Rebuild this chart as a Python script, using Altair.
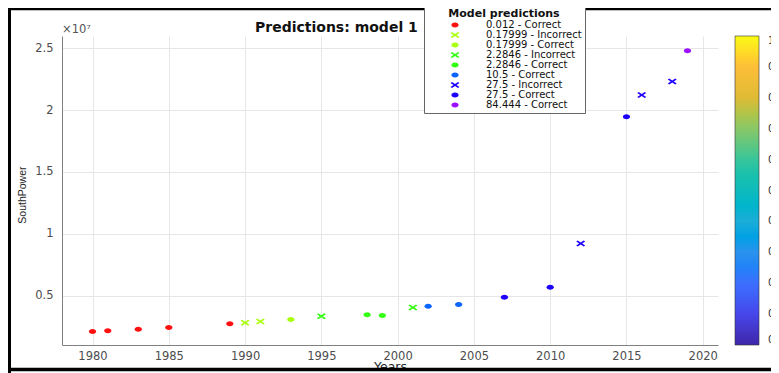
import altair as alt
import pandas as pd

# ---- data ----
years = [1980, 1981, 1983, 1985, 1989, 1990, 1991, 1993, 1995, 1998, 1999,
         2001, 2002, 2004, 2007, 2010, 2012, 2015, 2016, 2018, 2019]
power = [2.09e6, 2.15e6, 2.28e6, 2.42e6, 2.72e6, 2.80e6, 2.90e6, 3.06e6, 3.33e6,
         3.44e6, 3.39e6, 4.03e6, 4.14e6, 4.27e6, 4.86e6, 5.67e6, 9.22e6,
         1.946e7, 2.123e7, 2.231e7, 2.481e7]
point_cat = [
    "0.012 - Correct", "0.012 - Correct", "0.012 - Correct", "0.012 - Correct", "0.012 - Correct",
    "0.17999 - Incorrect", "0.17999 - Incorrect", "0.17999 - Correct",
    "2.2846 - Incorrect", "2.2846 - Correct", "2.2846 - Correct", "2.2846 - Incorrect",
    "10.5 - Correct", "10.5 - Correct",
    "27.5 - Correct", "27.5 - Correct", "27.5 - Incorrect", "27.5 - Correct",
    "27.5 - Incorrect", "27.5 - Incorrect",
    "84.444 - Correct",
]
cat_order = ["0.012 - Correct", "0.17999 - Incorrect", "0.17999 - Correct",
             "2.2846 - Incorrect", "2.2846 - Correct", "10.5 - Correct",
             "27.5 - Incorrect", "27.5 - Correct", "84.444 - Correct"]
cat_colors = ["#ff1010", "#aaff10", "#aaff10", "#33ff10", "#33ff10",
              "#0a64ff", "#1e00ff", "#1e00ff", "#9b10ff"]

DOT = "M-1.45,0A1.45,1 0 1,0 1.45,0A1.45,1 0 1,0 -1.45,0Z"
XMARK = "M-1.8,-0.8L-1.2,-1.2L0,-0.4L1.2,-1.2L1.8,-0.8L0.6,0L1.8,0.8L1.2,1.2L0,0.4L-1.2,1.2L-1.8,0.8L-0.6,0Z"
cat_shapes = [DOT, XMARK, DOT, XMARK, DOT, DOT, XMARK, DOT, DOT]

x_ticks = [1980, 1985, 1990, 1995, 2000, 2005, 2010, 2015, 2020]
y_ticks = [5e6, 1e7, 1.5e7, 2e7, 2.5e7]
cbar_ticks = [0, 0.1, 0.2, 0.3, 0.4, 0.5, 0.6, 0.7, 0.8, 0.9, 1]
parula = ["#3e26a8", "#4746eb", "#3c6ffe", "#2a92ee", "#1cadd8", "#0ebbbc",
          "#37c59a", "#88c767", "#dfbb35", "#febe38", "#f9fb15"]

title_text = "Predictions: model 1"
exp_text = "\u00d710\u2077"

df = pd.DataFrame({"year": years, "power": power, "cat": point_cat})

FONT = "DejaVu Sans"

model_legend = alt.Legend(
    title="Model predictions", orient="none", legendX=362, legendY=-31,
    direction="vertical", fillColor="white", strokeColor="#666666",
    padding=3, titleFont=FONT, titleFontSize=11, titleFontWeight="bold",
    titleColor="#111111", titleAlign="center", titleAnchor="middle", titlePadding=1,
    labelFont=FONT, labelFontSize=10, labelColor="#111111",
    symbolSize=25, symbolStrokeWidth=0, symbolOffset=23, labelOffset=26,
    rowPadding=0,
)

points = alt.Chart(df).mark_point(filled=True, opacity=1, strokeWidth=0).encode(
    x=alt.X("year:Q",
            scale=alt.Scale(domain=[1978, 2021], nice=False, zero=False),
            axis=alt.Axis(values=x_ticks, format="d", title="Years",
                          labelPadding=5, titleY=25, titleBaseline="alphabetic",
                          titleFontSize=12.5)),
    y=alt.Y("power:Q",
            scale=alt.Scale(domain=[1e6, 2.6e7], nice=False, zero=False),
            axis=alt.Axis(values=y_ticks, labelExpr="datum.value / 10000000",
                          title="SouthPower", labelPadding=9,
                          titleX=-37, titleY=130, titleAngle=270,
                          titleBaseline="alphabetic", titleAlign="right",
                          titleFont="Liberation Sans", titleFontSize=10.5)),
    color=alt.Color("cat:N", scale=alt.Scale(domain=cat_order, range=cat_colors),
                    legend=model_legend),
    shape=alt.Shape("cat:N", scale=alt.Scale(domain=cat_order, range=cat_shapes),
                    legend=model_legend),
    size=alt.value(25),
)

cbar = alt.Chart(pd.DataFrame({"v": cbar_ticks})).mark_point(opacity=0).encode(
    x=alt.value(0), y=alt.value(0),
    fill=alt.Fill("v:Q", scale=alt.Scale(domain=[0, 1], range=parula),
                  legend=alt.Legend(title=None, orient="none", legendX=673, legendY=0,
                                    direction="vertical", gradientLength=309,
                                    gradientThickness=24, gradientStrokeColor="#333333",
                                    gradientStrokeWidth=0.6, padding=0,
                                    values=cbar_ticks, format=".1~f",
                                    labelOffset=9, labelFont=FONT, labelFontSize=10,
                                    labelColor="#333333", labelBaseline="middle",
                                    labelOverlap=False)),
)

text_df = pd.DataFrame({"t": [title_text], "e": [exp_text]})
title_mark = alt.Chart(text_df).mark_text(
    align="left", baseline="alphabetic", font=FONT, fontSize=14,
    fontWeight="bold", color="#111111"
).encode(text="t:N", x=alt.value(193), y=alt.value(-4))

exp_mark = alt.Chart(text_df).mark_text(
    align="left", baseline="alphabetic", font=FONT, fontSize=11.5, color="#555555"
).encode(text="e:N", x=alt.value(0), y=alt.value(-3))

frame_df = pd.DataFrame({"k": [0]})
frame_left = alt.Chart(frame_df).mark_rule(color="black", strokeWidth=3).encode(
    x=alt.value(-52.5), y=alt.value(-28), y2=alt.value(337))
frame_bottom = alt.Chart(frame_df).mark_rule(color="black", strokeWidth=3.5).encode(
    x=alt.value(-54), x2=alt.value(717), y=alt.value(333.5))
frame_top = alt.Chart(frame_df).mark_rule(color="black", strokeWidth=2.5).encode(
    x=alt.value(-54), x2=alt.value(717), y=alt.value(-27))

chart = alt.layer(points, cbar, title_mark, exp_mark, frame_left, frame_bottom, frame_top).properties(
    width=656, height=309,
    padding={"left": 54, "top": 28, "right": 53, "bottom": 28},
    autosize=alt.AutoSizeParams(type="none"),
    background="white",
).configure_view(strokeWidth=0).configure_axis(
    domainColor="#808080", gridColor="#e6e6e6", tickSize=0,
    labelFont=FONT, labelFontSize=11.5, labelColor="#4d4d4d",
    titleFont=FONT, titleColor="#262626", titleFontWeight="normal",
)

chart.save("out.html", embed_options={"renderer": "svg", "actions": False})
